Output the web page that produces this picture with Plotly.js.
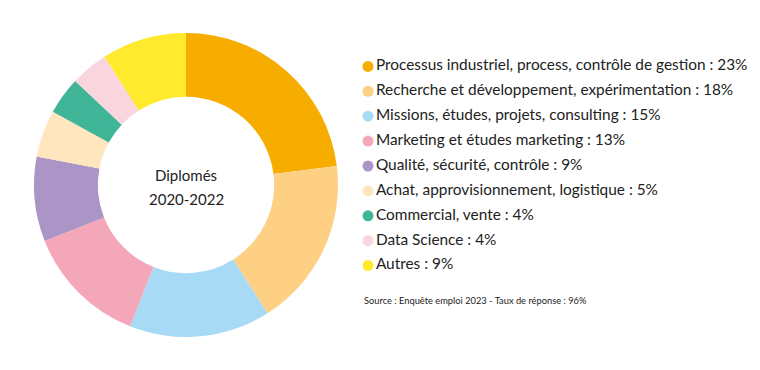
<!DOCTYPE html>
<html>
<head>
<meta charset="utf-8">
<script src="https://cdn.plot.ly/plotly-3.0.1.min.js"></script>
<style>html,body{margin:0;padding:0;background:#fff;}#chart{width:760px;height:370px;}</style>
</head>
<body>
<div id="chart"></div>
<script>
const categories = [
  "Processus industriel, process, contrôle de gestion",
  "Recherche et développement, expérimentation",
  "Missions, études, projets, consulting",
  "Marketing et études marketing",
  "Qualité, sécurité, contrôle",
  "Achat, approvisionnement, logistique",
  "Commercial, vente",
  "Data Science",
  "Autres"
];
const values = [23, 18, 15, 13, 9, 5, 4, 4, 9];
const colors = ["#F7AC00", "#FDD084", "#A6DAF5", "#F4A7B9", "#AB94C6", "#FFE6BF", "#40B598", "#FAD5DE", "#FFEA2E"];
const centerLines = ["Diplomés", "2020-2022"];
const sourceText = "Source : Enquête emploi 2023 - Taux de réponse : 96%";

const FONT = "Lato, 'Open Sans', sans-serif";
const W = 760, H = 370;

const legendLabels = categories.map((c, i) => c + " : " + values[i] + "%");
const idx = categories.map((_, i) => i);

const pie = {
  type: "pie",
  values: values,
  labels: categories,
  marker: { colors: colors, line: { width: 0 } },
  hole: 0.58,
  sort: false,
  direction: "clockwise",
  rotation: 0,
  textinfo: "none",
  hoverinfo: "label+percent",
  showlegend: false,
  domain: { x: [34 / W, 338 / W], y: [1 - 337 / H, 1 - 33 / H] }
};

const legendTrace = {
  type: "scatter",
  mode: "markers+text",
  x: idx.map(() => 0),
  y: idx,
  text: legendLabels,
  textposition: "middle right",
  textfont: { family: FONT, size: 15.4, color: "#222" },
  marker: { color: colors, size: 11, symbol: "circle" },
  xaxis: "x2",
  yaxis: "y2",
  cliponaxis: false,
  hoverinfo: "skip",
  showlegend: false
};

const annotations = [
  { text: centerLines[0], x: 186 / W, y: 1 - 175 / H },
  { text: centerLines[1], x: 186 / W, y: 1 - 199 / H }
].map(a => ({
  text: a.text, x: a.x, y: a.y, xref: "paper", yref: "paper",
  xanchor: "center", yanchor: "middle", showarrow: false,
  font: { family: FONT, size: 15, color: "#222" }
}));
annotations.push({
  text: sourceText, x: 362 / W, y: 1 - 300 / H, xref: "paper", yref: "paper",
  xanchor: "left", yanchor: "middle", showarrow: false,
  font: { family: FONT, size: 9.3, color: "#222" }
});

const layout = {
  width: W, height: H,
  margin: { l: 0, r: 0, t: 0, b: 0 },
  paper_bgcolor: "#fff",
  plot_bgcolor: "rgba(0,0,0,0)",
  showlegend: false,
  xaxis2: { domain: [368 / W, 1], range: [0, 1], visible: false, fixedrange: true, anchor: "y2" },
  yaxis2: { domain: [1 - 278 / H, 1 - 54 / H], range: [8.5, -0.5], visible: false, fixedrange: true, anchor: "x2" },
  annotations: annotations
};

Plotly.newPlot("chart", [pie, legendTrace], layout, { displayModeBar: false, staticPlot: true });
</script>
</body>
</html>
